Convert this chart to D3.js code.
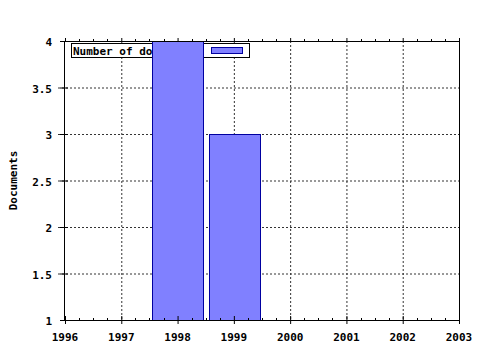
<!DOCTYPE html>
<html>
<head>
<meta charset='utf-8'>
<title>Documents per year</title>
<style>
  body { margin: 0; background: #fff; }
  text { font-family: 'DejaVu Sans Mono', monospace; font-weight: bold; font-size: 11px; fill: #000; }
</style>
<script src='https://d3js.org/d3.v7.min.js'></script>
</head>
<body>
<div id="chart"></div>
<script>
// ******* Data *******
const years = [1998, 1999];
const docs = [4, 3];
const yearTicks = [1996, 1997, 1998, 1999, 2000, 2001, 2002, 2003];
const docTicks = [1, 1.5, 2, 2.5, 3, 3.5, 4];
const seriesName = "Number of documents";

// ******* Layout *******
const width = 480, height = 350;
const plotL = 65, plotR = 459, plotT = 41, plotB = 320;

const x = d3.scaleLinear().domain([1996, 2003]).range([plotL, plotR]);
const y = d3.scaleLinear().domain([1, 4]).range([plotB, plotT]);

const svg = d3.select("#chart").append("svg")
    .attr("width", width)
    .attr("height", height);

// grid lines (dotted)
svg.selectAll(".vgrid")
    .data(yearTicks.slice(1, -1))
    .enter().append("line")
    .attr("x1", d => x(d) + 0.5).attr("x2", d => x(d) + 0.5)
    .attr("y1", plotT).attr("y2", plotB)
    .attr("stroke", "#333").attr("stroke-dasharray", "2,2");

svg.selectAll(".hgrid")
    .data(docTicks.slice(1, -1))
    .enter().append("line")
    .attr("x1", plotL - 7).attr("x2", plotR)
    .attr("y1", d => y(d) + 0.5).attr("y2", d => y(d) + 0.5)
    .attr("stroke", "#333").attr("stroke-dasharray", "2,2");

// legend (drawn below the bars, as in the original)
const lg = svg.append("g");
lg.append("rect")
    .attr("x", 71.5).attr("y", 43.5).attr("width", 178).attr("height", 14)
    .attr("fill", "#fff").attr("stroke", "#000");
lg.append("text").attr("x", 73).attr("y", 55).text(seriesName);
lg.append("rect")
    .attr("x", 211.5).attr("y", 47.5).attr("width", 31).attr("height", 6)
    .attr("fill", "#8080ff").attr("stroke", "#0000a0");

// ******* Bars *******
const barW = (x(1997) - x(1996)) * 0.9;
svg.selectAll(".bar")
    .data(years)
    .enter().append("rect")
    .attr("x", d => Math.round(x(d) - barW / 2) + 0.5)
    .attr("y", (d, i) => Math.round(y(docs[i])) + 0.5)
    .attr("width", Math.round(barW))
    .attr("height", (d, i) => Math.round(y(1) - y(docs[i])))
    .attr("fill", "#8080ff")
    .attr("stroke", "#0000a0");

// ******* Axes frame *******
svg.append("rect")
    .attr("x", plotL - 0.5).attr("y", plotT + 0.5)
    .attr("width", plotR - plotL + 1).attr("height", plotB - plotT)
    .attr("fill", "none").attr("stroke", "#000");

// x ticks: major crossing the axis, minor quarters
const minor = [];
for (let i = 0; i < yearTicks.length - 1; i++)
  for (let k = 1; k < 4; k++) minor.push(yearTicks[i] + k / 4);

svg.selectAll(".xmaj")
    .data(yearTicks)
    .enter().append("line")
    .attr("x1", d => x(d) + 0.5).attr("x2", d => x(d) + 0.5)
    .attr("y1", plotB - 4).attr("y2", plotB + 4)
    .attr("stroke", "#000");
svg.selectAll(".xmin")
    .data(minor)
    .enter().append("line")
    .attr("x1", d => Math.round(x(d)) + 0.5).attr("x2", d => Math.round(x(d)) + 0.5)
    .attr("y1", plotB - 2).attr("y2", plotB + 0.5)
    .attr("stroke", "#000");
svg.selectAll(".xmint")
    .data(minor)
    .enter().append("line")
    .attr("x1", d => Math.round(x(d)) + 0.5).attr("x2", d => Math.round(x(d)) + 0.5)
    .attr("y1", plotT - 2).attr("y2", plotT + 0.5)
    .attr("stroke", "#000");
svg.selectAll(".xmajt")
    .data(yearTicks)
    .enter().append("line")
    .attr("x1", d => x(d) + 0.5).attr("x2", d => x(d) + 0.5)
    .attr("y1", plotT - 3).attr("y2", plotT + 0.5)
    .attr("stroke", "#000");

svg.selectAll(".xlab")
    .data(yearTicks)
    .enter().append("text")
    .attr("x", d => x(d))
    .attr("y", plotB + 21)
    .attr("text-anchor", "middle")
    .text(d => d);

// y ticks and labels
svg.selectAll(".ytick")
    .data(docTicks)
    .enter().append("line")
    .attr("x1", plotL - 5).attr("x2", plotL + 3)
    .attr("y1", d => y(d) + 0.5).attr("y2", d => y(d) + 0.5)
    .attr("stroke", "#000");

svg.selectAll(".ylab")
    .data(docTicks)
    .enter().append("text")
    .attr("x", 52)
    .attr("y", d => y(d) + 5)
    .attr("text-anchor", "end")
    .text(d => d);

svg.append("text")
    .attr("transform", "translate(17," + ((plotT + plotB) / 2) + ") rotate(-90)")
    .attr("text-anchor", "middle")
    .text("Documents");
</script>
</body>
</html>
